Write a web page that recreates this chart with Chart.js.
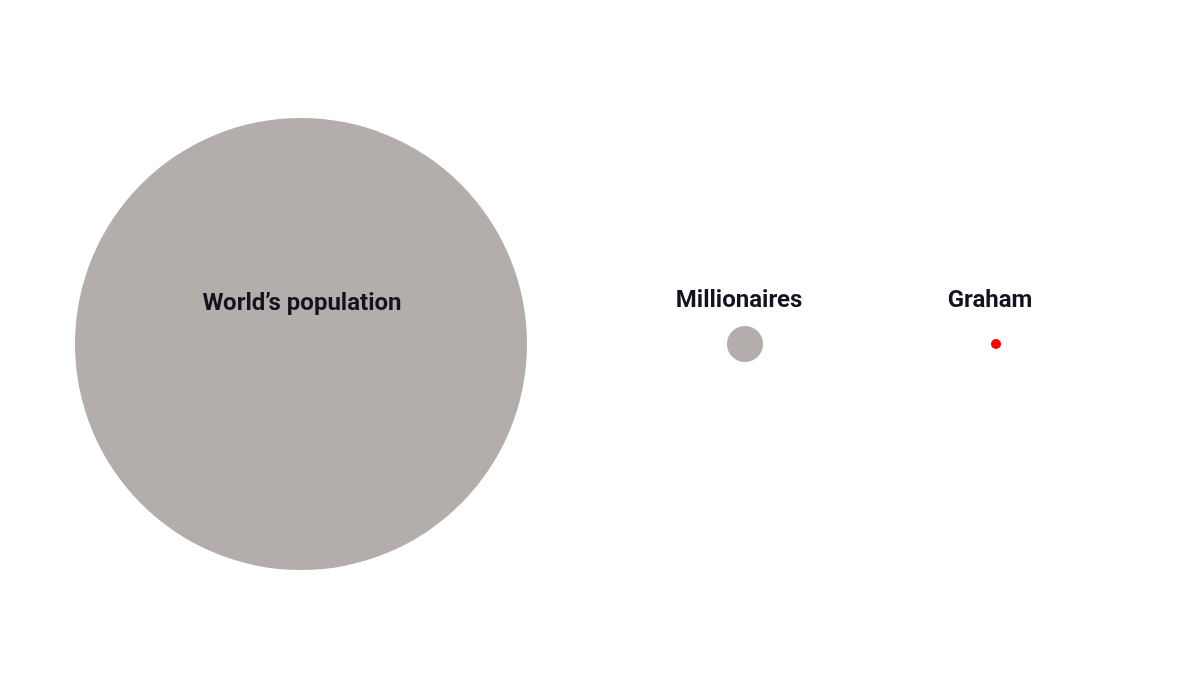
<!DOCTYPE html>
<html>
<head>
<meta charset="utf-8">
<script src="https://cdn.jsdelivr.net/npm/chart.js@4"></script>
<style>
  html, body { margin: 0; padding: 0; background: #fff; }
  #wrap { width: 1200px; height: 675px; }
</style>
</head>
<body>
<div id="wrap"><canvas id="grafica"></canvas></div>
<script>
// data
const categorias = ["World\u2019s population", "Millionaires", "Graham"]
const personas_millones = [8000, 51, 0.000001]   // people, in millions
const posicion_x = [3.01, 7.45, 9.96]
const colores = ["#b3adab", "#b3adab", "#ff0000"]

const radio_max = 226
const radio_min = 5

function radio(valor) {
    const max = Math.max(...personas_millones)
    return Math.max(radio_min, radio_max * Math.sqrt(valor / max))
}

const puntos = categorias.map((c, i) => {
    return { x: posicion_x[i], y: 0, r: radio(personas_millones[i]) }
})

// labels above / inside each bubble
const etiquetas = {
    id: "etiquetas",
    afterDatasetsDraw(chart) {
        const ctx = chart.ctx
        const meta = chart.getDatasetMeta(0)
        ctx.save()
        ctx.font = "bold 24px Roboto, 'DejaVu Sans', sans-serif"
        ctx.fillStyle = "#13121e"
        ctx.textAlign = "center"
        ctx.textBaseline = "alphabetic"
        meta.data.forEach((el, i) => {
            if (i == 0) {
                ctx.fillText(categorias[i], el.x + 1, el.y - 34)
            } else {
                ctx.fillText(categorias[i], el.x - 6, el.y - 37)
            }
        })
        ctx.restore()
    }
}

const config = {
    type: "bubble",
    data: {
        datasets: [{
            data: puntos,
            backgroundColor: colores,
            borderWidth: 0,
            hoverBorderWidth: 0,
            clip: false
        }]
    },
    options: {
        responsive: true,
        maintainAspectRatio: false,
        animation: false,
        layout: { autoPadding: false, padding: { top: 13, left: 0, right: 0, bottom: 0 } },
        plugins: { legend: { display: false }, tooltip: { enabled: false } },
        scales: {
            x: { display: false, min: 0, max: 12 },
            y: { display: false, min: -1, max: 1 }
        }
    },
    plugins: [etiquetas]
}

new Chart(document.getElementById("grafica"), config)
</script>
</body>
</html>
